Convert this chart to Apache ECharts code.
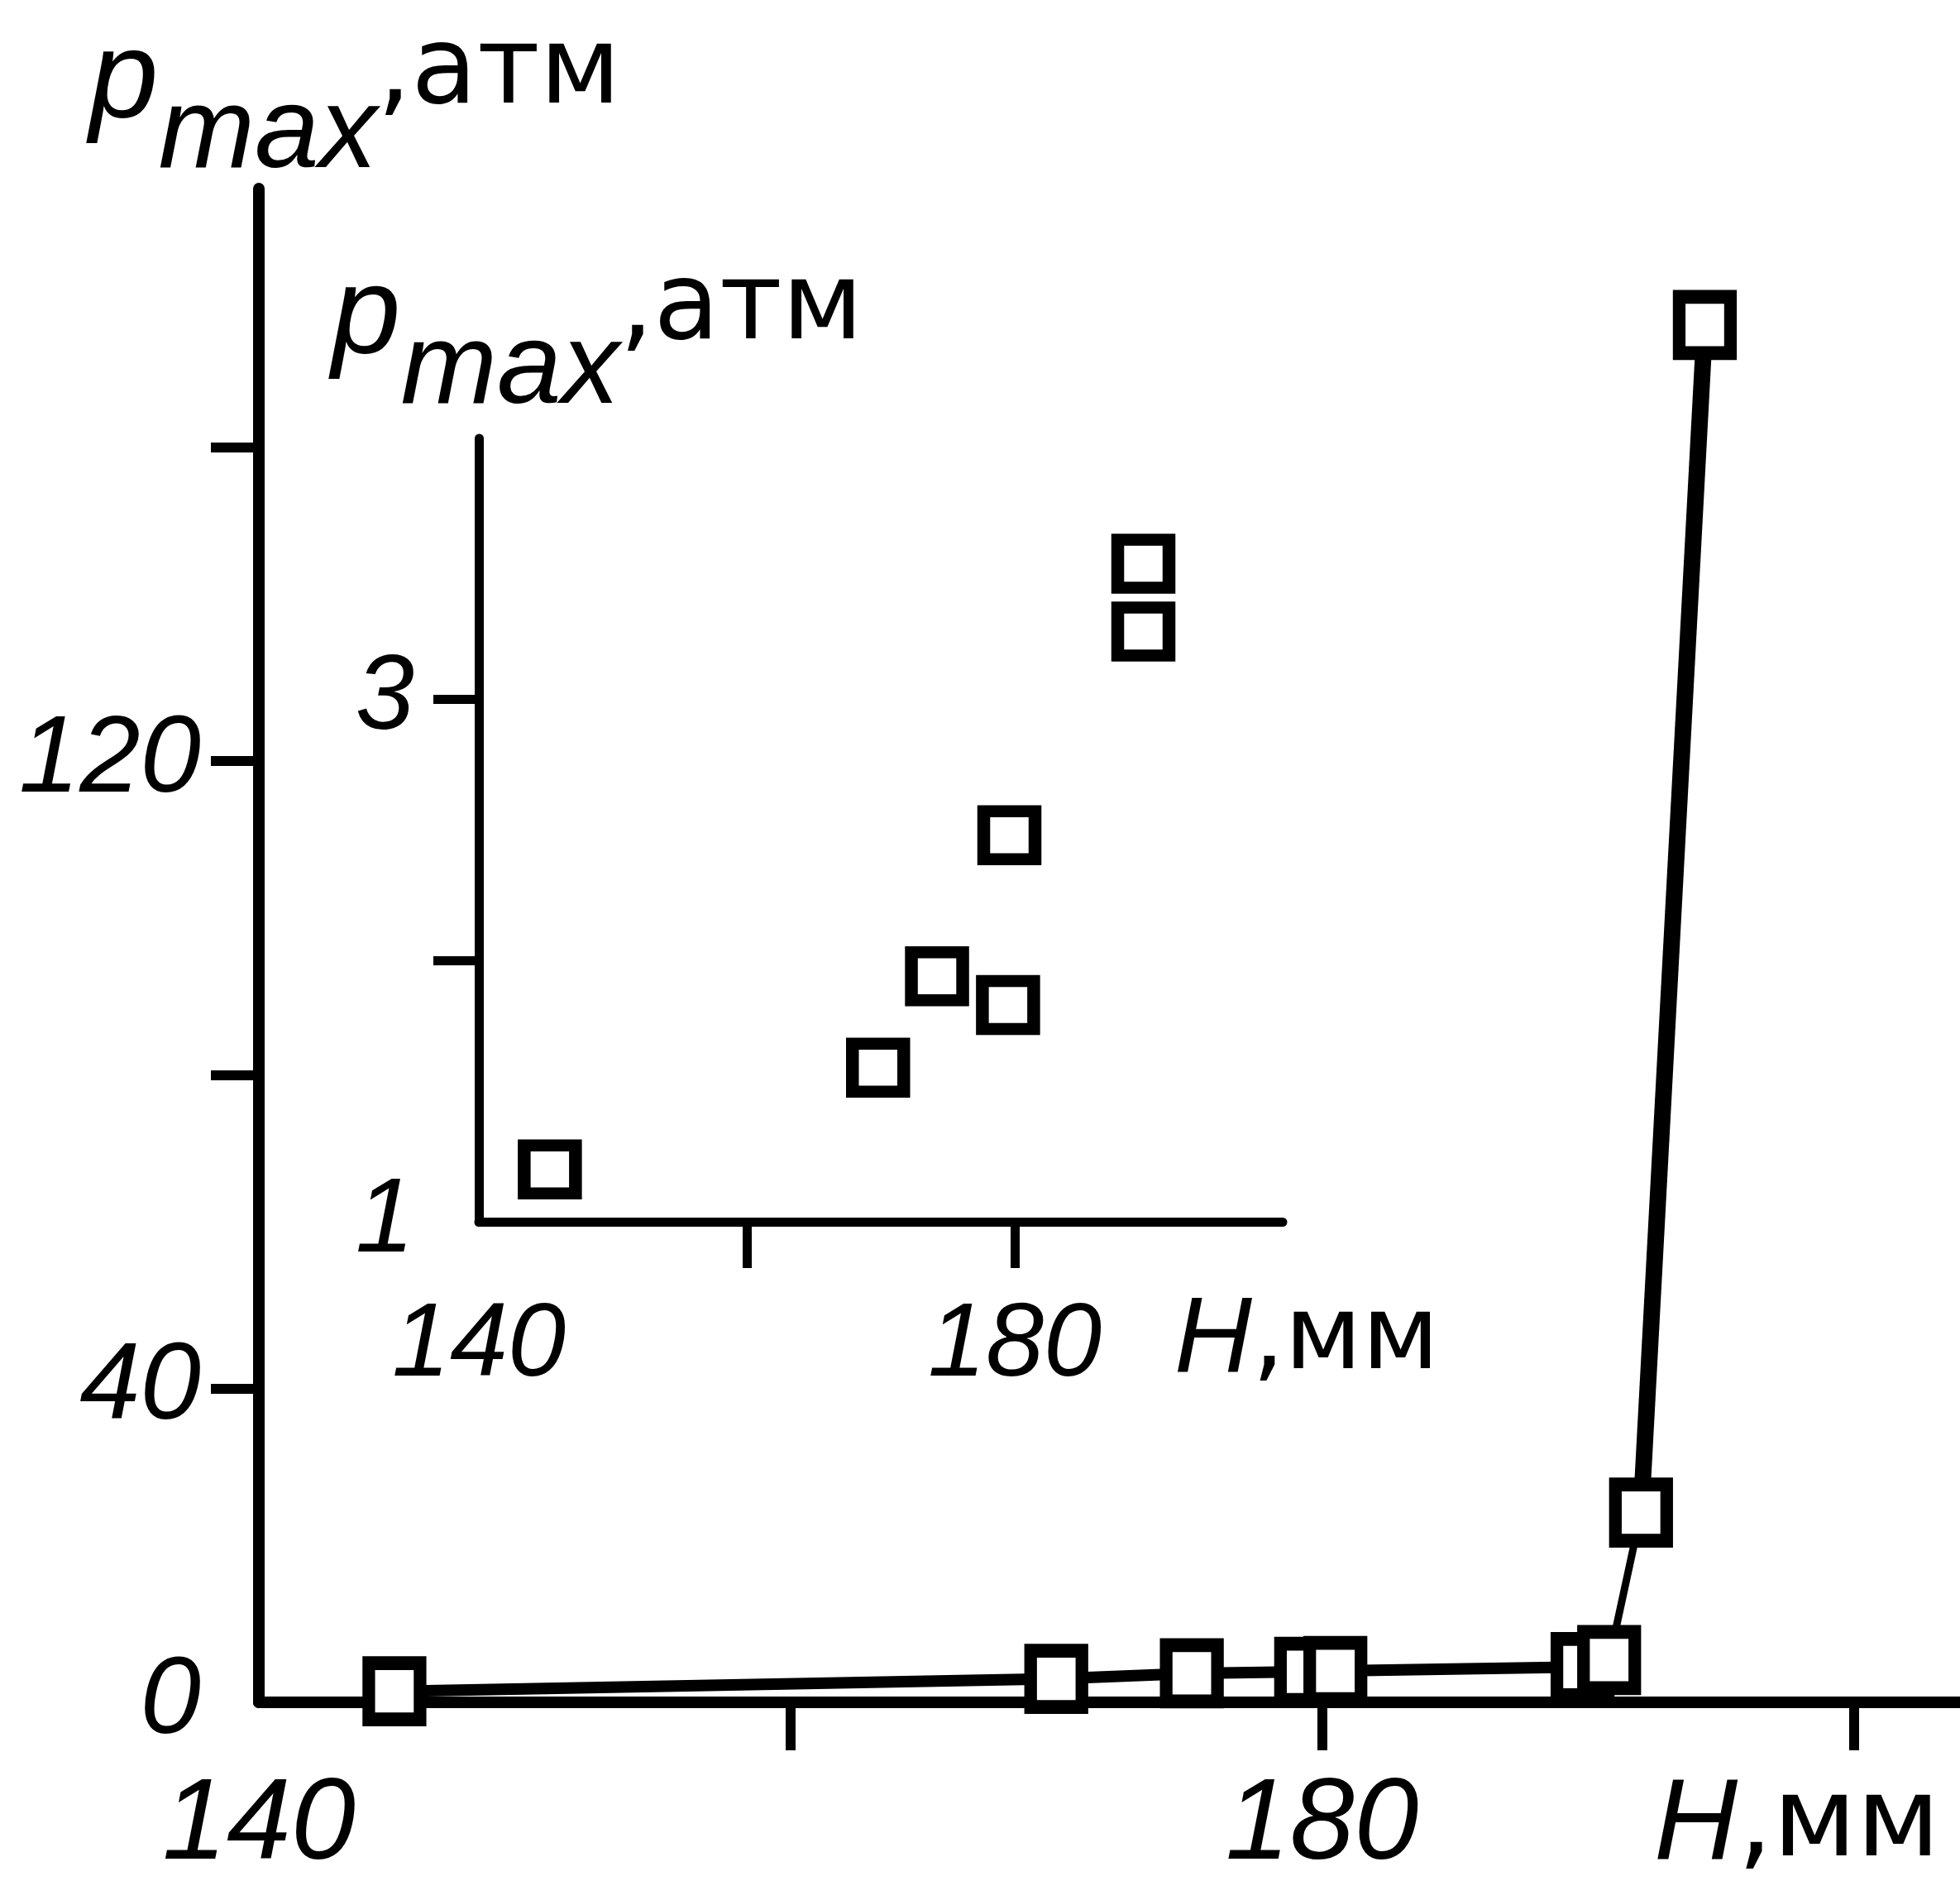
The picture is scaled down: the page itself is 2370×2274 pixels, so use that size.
<!DOCTYPE html>
<html>
<head>
<meta charset="utf-8">
<script src="https://cdn.jsdelivr.net/npm/echarts@6/dist/echarts.min.js"></script>
<style>
html,body{margin:0;padding:0;background:#fff;}
#c{width:2370px;height:2274px;}
</style>
</head>
<body>
<div id="c"></div>
<script>
// ---- data ----
const mainH = [145.1, 170.0, 175.1, 179.4, 180.5, 189.8, 190.8, 192.0, 194.4];
const mainP = [1.4, 3.0, 3.7, 3.9, 4.0, 4.5, 5.4, 24.2, 175.6];
const insetH = [145.3, 169.8, 174.2, 179.5, 179.6, 189.6, 189.6];
const insetP = [1.20, 1.59, 1.94, 1.83, 2.48, 3.26, 3.52];

const mainXTicks = [160, 180, 200];
const mainXLabels = [140, 180];
const mainYTicks = [40, 80, 120, 160];
const mainYLabels = [0, 40, 120];
const insetXTicks = [160, 180];
const insetXLabels = [140, 180];
const insetYTicks = [2, 3];
const insetYLabels = [1, 3];

const yNameParts = ['p', 'max', ',атм'];
const xNameParts = ['H', ',мм'];

// ---- build ----
const mainPts = mainH.map((h, i) => [h, mainP[i]]);
const insetPts = insetH.map((h, i) => [h, insetP[i]]);
const segLow = mainPts.slice(0, 7);
const segMid = mainPts.slice(6, 8);
const segHigh = mainPts.slice(7, 9);

const BLACK = '#000';
const numFont = {fontFamily: 'Liberation Sans', fontStyle: 'italic', color: BLACK};

const yNameText = '{p|' + yNameParts[0] + '}{m|' + yNameParts[1] + '}{u|' + yNameParts[2] + '}';
const xNameText = '{h|' + xNameParts[0] + '}{u|' + xNameParts[1] + '}';

const yNameRich = {
  p: {fontFamily: 'Liberation Sans', fontStyle: 'italic', fontSize: 150, lineHeight: 150, verticalAlign: 'top', color: BLACK},
  m: {fontFamily: 'Liberation Sans', fontStyle: 'italic', fontSize: 140, lineHeight: 208, verticalAlign: 'bottom', color: BLACK},
  u: {fontFamily: 'DejaVu Sans', fontSize: 130, lineHeight: 140, verticalAlign: 'top', color: BLACK}
};
function xNameRich(size) {
  return {
    h: {fontFamily: 'Liberation Sans', fontStyle: 'italic', fontSize: size, lineHeight: size, color: BLACK},
    u: {fontFamily: 'DejaVu Sans', fontSize: size - 6, lineHeight: size, color: BLACK}
  };
}

const chart = echarts.init(document.getElementById('c'), null, {renderer: 'canvas'});

const option = {
  backgroundColor: '#fff',
  animation: false,
  grid: [
    {left: 313, right: 0, top: 228, bottom: 216, outerBoundsMode: 'none', containLabel: false},
    {left: 579, right: 819, top: 530, bottom: 797, outerBoundsMode: 'none', containLabel: false}
  ],
  xAxis: [
    {
      type: 'value', gridIndex: 0, min: 140, max: 204,
      splitLine: {show: false},
      axisLine: {show: true, onZero: false, lineStyle: {color: BLACK, width: 14}},
      axisTick: {show: true, customValues: mainXTicks, length: 58, lineStyle: {color: BLACK, width: 12}},
      axisLabel: Object.assign({customValues: mainXLabels, margin: 80, fontSize: 140}, numFont),
      name: xNameText, nameLocation: 'end', nameGap: -370, nameMoveOverlap: false,
      nameTextStyle: {align: 'left', verticalAlign: 'top', padding: [80, 0, 0, 0], rich: xNameRich(140)}
    },
    {
      type: 'value', gridIndex: 1, min: 140, max: 200,
      splitLine: {show: false},
      axisLine: {show: true, onZero: false, lineStyle: {color: BLACK, width: 11}},
      axisTick: {show: true, customValues: insetXTicks, length: 56, lineStyle: {color: BLACK, width: 11}},
      axisLabel: Object.assign({customValues: insetXLabels, margin: 88, fontSize: 126}, numFont),
      name: xNameText, nameLocation: 'end', nameGap: -131, nameMoveOverlap: false,
      nameTextStyle: {align: 'left', verticalAlign: 'top', padding: [80, 0, 0, 0], rich: xNameRich(130)}
    }
  ],
  yAxis: [
    {
      type: 'value', gridIndex: 0, min: 0, max: 193,
      splitLine: {show: false},
      axisLine: {show: true, onZero: false, lineStyle: {color: BLACK, width: 14}},
      axisTick: {show: true, customValues: mainYTicks, length: 58, lineStyle: {color: BLACK, width: 12}},
      axisLabel: Object.assign({customValues: mainYLabels, margin: 70, fontSize: 132}, numFont),
      name: yNameText, nameLocation: 'end', nameGap: -5, nameMoveOverlap: false,
      nameTextStyle: {align: 'left', verticalAlign: 'bottom', padding: [0, 0, 0, -205], rich: yNameRich}
    },
    {
      type: 'value', gridIndex: 1, min: 1, max: 4,
      splitLine: {show: false},
      axisLine: {show: true, onZero: false, lineStyle: {color: BLACK, width: 11}},
      axisTick: {show: true, customValues: insetYTicks, length: 55, lineStyle: {color: BLACK, width: 11}},
      axisLabel: Object.assign({customValues: insetYLabels, margin: 78, fontSize: 128}, numFont),
      name: yNameText, nameLocation: 'end', nameGap: 12, nameMoveOverlap: false,
      nameTextStyle: {align: 'left', verticalAlign: 'bottom', padding: [0, 0, 0, -178], rich: yNameRich}
    }
  ],
  series: [
    {
      type: 'line', xAxisIndex: 0, yAxisIndex: 0, data: segLow, showSymbol: false,
      lineStyle: {color: BLACK, width: 14}, z: 2, silent: true
    },
    {
      type: 'line', xAxisIndex: 0, yAxisIndex: 0, data: segMid, showSymbol: false,
      lineStyle: {color: BLACK, width: 9}, z: 2, silent: true
    },
    {
      type: 'line', xAxisIndex: 0, yAxisIndex: 0, data: segHigh, showSymbol: false,
      lineStyle: {color: BLACK, width: 20}, z: 2, silent: true
    },
    {
      type: 'scatter', xAxisIndex: 0, yAxisIndex: 0, data: mainPts,
      symbol: 'rect', symbolSize: [62, 68],
      itemStyle: {color: '#fff', borderColor: BLACK, borderWidth: 16, opacity: 1}, z: 5, silent: true
    },
    {
      type: 'scatter', xAxisIndex: 1, yAxisIndex: 1, data: insetPts,
      symbol: 'rect', symbolSize: [62, 58],
      itemStyle: {color: '#fff', borderColor: BLACK, borderWidth: 15, opacity: 1}, z: 5, silent: true
    }
  ]
};
chart.setOption(option);
</script>
</body>
</html>
